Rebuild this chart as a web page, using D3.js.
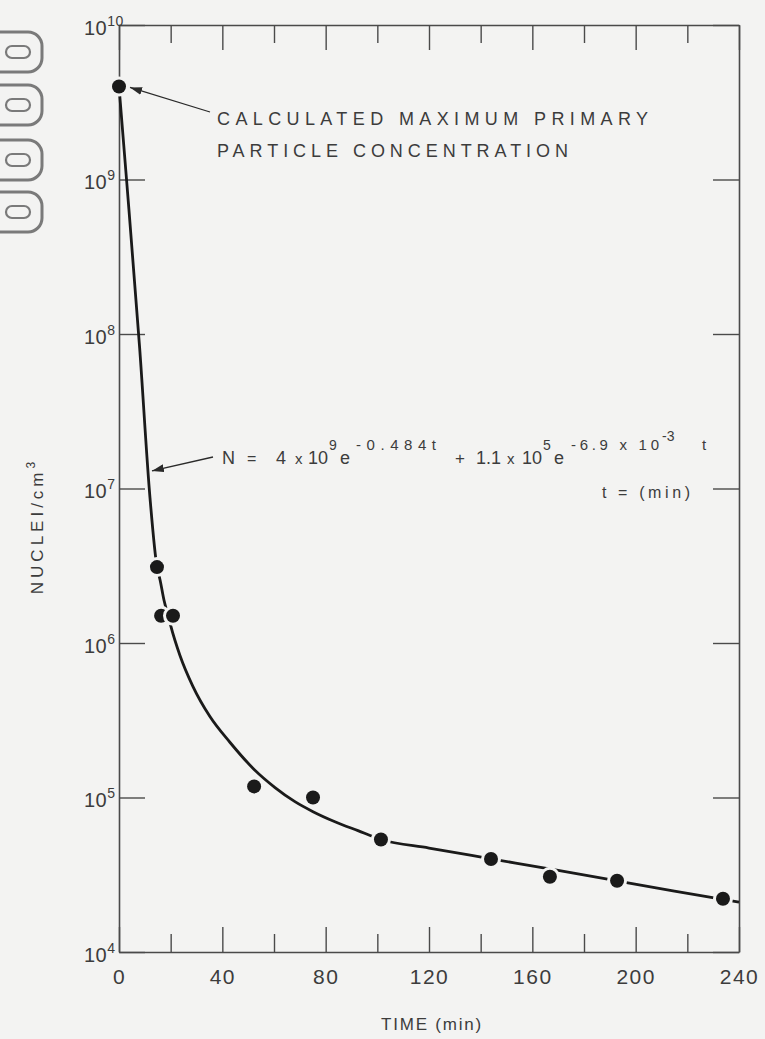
<!DOCTYPE html>
<html>
<head>
<meta charset="utf-8">
<script src="https://cdn.jsdelivr.net/npm/d3@7"></script>
<style>
  html, body { margin: 0; padding: 0; background: #f3f3f2; }
  svg { display: block; }
  .lbl { font-family: "Liberation Sans", Arial, sans-serif; fill: #3c3c3c; }
</style>
</head>
<body>
<div id="chart"></div>
<script>
// measured points (min, nuclei/cm3)
var timeMin = [0, 14.7, 16.3, 20.9, 52.3, 75.1, 101.4, 144, 166.8, 192.8, 233.8];
var nuclei = [4.0e9, 3.1e6, 1.5e6, 1.5e6, 1.18e5, 1.0e5, 5.35e4, 4.0e4, 3.07e4, 2.89e4, 2.21e4];

// fitted curve
var fitTime = [0, 3, 8, 12, 14.7, 15.9, 17.4, 19.3, 20.1, 23.6, 28.6, 35.2, 43.0, 52.3, 60.4, 68.1, 75.1, 83.6, 92.5, 101.4, 120, 144, 170, 194, 215, 240];
var fitN = [4.0e9, 9.6e8, 8.1e7, 8.7e6, 3.1e6, 2.56e6, 1.9e6, 1.45e6, 1.28e6, 8.3e5, 5.24e5, 3.34e5, 2.27e5, 1.52e5, 1.16e5, 9.4e4, 8.1e4, 6.97e4, 6.1e4, 5.35e4, 4.71e4, 4.01e4, 3.37e4, 2.86e4, 2.48e4, 2.1e4];

var xMajor = [0, 40, 80, 120, 160, 200, 240];
var xMinor = [20, 60, 100, 140, 180, 220];
var yTicks = [1e4, 1e5, 1e6, 1e7, 1e8, 1e9, 1e10];

var svgWidth = 765;
var svgHeight = 1039;
var margin = { top: 25, right: 26, bottom: 87, left: 119 };
var width = svgWidth - margin.left - margin.right;
var height = svgHeight - margin.top - margin.bottom;
var bg = "#f3f3f2";
var ink = "#1a1a1a";
var frame = "#4a4a4a";

var svg = d3.select("#chart")
  .append("svg")
  .attr("width", svgWidth)
  .attr("height", svgHeight);

svg.append("rect").attr("width", svgWidth).attr("height", svgHeight).attr("fill", bg);

// binder marks on the left edge of the scan
var holes = [[32, 72], [85, 125], [140, 180], [192, 232]];
holes.forEach(function(h) {
  var t = h[0], b = h[1], r = 14;
  svg.append("path")
    .attr("d", `M0,${t} H${42 - r} A${r},${r} 0 0 1 42,${t + r} V${b - r} A${r},${r} 0 0 1 ${42 - r},${b} H0`)
    .attr("fill", "none").attr("stroke", "#7a7a7a").attr("stroke-width", 3);
  var m = (t + b) / 2;
  svg.append("rect")
    .attr("x", 6).attr("y", m - 6).attr("width", 24).attr("height", 12).attr("rx", 6)
    .attr("fill", "none").attr("stroke", "#7a7a7a").attr("stroke-width", 2.2);
});

var chartGroup = svg.append("g")
  .attr("transform", `translate(${margin.left}, ${margin.top})`);

var xScale = d3.scaleLinear().domain([0, 240]).range([0, width]);
var yScale = d3.scaleLog().domain([1e4, 1e10]).range([height, 0]);

// axes, ticks pointing inward
function styleAxis(g) {
  g.selectAll(".domain").attr("stroke", frame).attr("stroke-width", 1.6);
  g.selectAll(".tick line").attr("stroke", frame).attr("stroke-width", 1.4);
}

var bottomAxis = chartGroup.append("g")
  .attr("transform", `translate(0, ${height})`)
  .call(d3.axisBottom(xScale).tickValues(xMajor).tickSizeInner(-25).tickSizeOuter(0).tickPadding(17).tickFormat(d3.format("d")))
  .call(styleAxis);
bottomAxis.selectAll("text")
  .attr("class", "lbl").attr("font-size", 21).attr("letter-spacing", 1.5).attr("fill", "#3c3c3c");

chartGroup.append("g")
  .attr("transform", `translate(0, ${height})`)
  .call(d3.axisBottom(xScale).tickValues(xMinor).tickSize(-18).tickFormat(""))
  .call(styleAxis)
  .select(".domain").remove();

chartGroup.append("g")
  .call(d3.axisTop(xScale).tickValues(xMajor).tickSizeInner(-25).tickSizeOuter(0).tickFormat(""))
  .call(styleAxis);
chartGroup.append("g")
  .call(d3.axisTop(xScale).tickValues(xMinor).tickSize(-18).tickFormat(""))
  .call(styleAxis)
  .select(".domain").remove();

var leftAxis = chartGroup.append("g")
  .call(d3.axisLeft(yScale).tickValues(yTicks).tickSizeInner(-26).tickSizeOuter(0).tickFormat(""))
  .call(styleAxis);
leftAxis.selectAll(".tick").each(function(d) {
  var t = d3.select(this).append("text")
    .attr("class", "lbl")
    .attr("x", -35)
    .attr("y", 9)
    .attr("text-anchor", "start")
    .attr("font-size", 20)
    .attr("letter-spacing", 0.5);
  t.append("tspan").text("10");
  t.append("tspan").attr("dy", -9).attr("dx", 0).attr("font-size", 14).text(Math.round(Math.log10(d)));
});

chartGroup.append("g")
  .attr("transform", `translate(${width}, 0)`)
  .call(d3.axisRight(yScale).tickValues(yTicks).tickSizeInner(-26).tickSizeOuter(0).tickFormat(""))
  .call(styleAxis);

// fitted curve
var line = d3.line()
  .x(function(d, i) { return xScale(fitTime[i]); })
  .y(function(d) { return yScale(d); })
  .curve(d3.curveMonotoneX);

chartGroup.append("path")
  .datum(fitN)
  .attr("d", line)
  .attr("fill", "none")
  .attr("stroke", ink)
  .attr("stroke-width", 2.8);

// data points with a paper-coloured halo that breaks the line
var pts = chartGroup.selectAll(".pt")
  .data(nuclei)
  .enter()
  .append("g")
  .attr("transform", function(d, i) { return `translate(${xScale(timeMin[i])}, ${yScale(d)})`; });
pts.append("circle").attr("r", 10).attr("fill", bg);
pts.append("circle").attr("r", 7).attr("fill", ink);

// arrow heads
svg.append("defs").append("marker")
  .attr("id", "arrow")
  .attr("viewBox", "0 0 12 8")
  .attr("refX", 12).attr("refY", 4)
  .attr("markerWidth", 12).attr("markerHeight", 8)
  .attr("markerUnits", "userSpaceOnUse")
  .attr("orient", "auto")
  .append("path").attr("d", "M0,0 L12,4 L0,8 Z").attr("fill", "#2a2a2a");

// annotation: calculated maximum
var tipX = xScale(timeMin[0]) + 11, tipY = yScale(nuclei[0]) + 1;
chartGroup.append("line")
  .attr("x1", 210 - margin.left).attr("y1", 112 - margin.top)
  .attr("x2", tipX).attr("y2", tipY)
  .attr("stroke", "#2a2a2a").attr("stroke-width", 1.3)
  .attr("marker-end", "url(#arrow)");

svg.append("text").attr("class", "lbl")
  .attr("x", 217).attr("y", 125).attr("font-size", 18)
  .attr("textLength", 431).attr("lengthAdjust", "spacing")
  .text("CALCULATED MAXIMUM PRIMARY");
svg.append("text").attr("class", "lbl")
  .attr("x", 217).attr("y", 157).attr("font-size", 18)
  .attr("textLength", 351).attr("lengthAdjust", "spacing")
  .text("PARTICLE CONCENTRATION");

// annotation: fitted equation
var eqTipX = xScale(11.6) + 3, eqTipY = yScale(1.3e7);
chartGroup.append("line")
  .attr("x1", 213 - margin.left).attr("y1", 457 - margin.top)
  .attr("x2", eqTipX).attr("y2", eqTipY)
  .attr("stroke", "#2a2a2a").attr("stroke-width", 1.3)
  .attr("marker-end", "url(#arrow)");

var eqBase = 464, supBase = 450, sup2Base = 441;
var eqParts = [
  { s: "N", x: 222, y: eqBase, f: 18 },
  { s: "=", x: 247, y: eqBase, f: 16 },
  { s: "4", x: 276, y: eqBase, f: 18 },
  { s: "x", x: 295, y: eqBase, f: 15 },
  { s: "10", x: 308, y: eqBase, f: 18 },
  { s: "9", x: 329, y: supBase, f: 14 },
  { s: "e", x: 340, y: eqBase, f: 18 },
  { s: "-0.484t", x: 356, y: supBase, f: 15, w: 80 },
  { s: "+", x: 455, y: eqBase, f: 17 },
  { s: "1.1", x: 476, y: eqBase, f: 18 },
  { s: "x", x: 507, y: eqBase, f: 15 },
  { s: "10", x: 522, y: eqBase, f: 18 },
  { s: "5", x: 543, y: supBase, f: 14 },
  { s: "e", x: 554, y: eqBase, f: 18 },
  { s: "-6.9 x 10", x: 571, y: supBase, f: 15, w: 88 },
  { s: "-3", x: 662, y: sup2Base, f: 14 },
  { s: "t", x: 702, y: supBase, f: 15 }
];
eqParts.forEach(function(p) {
  var t = svg.append("text").attr("class", "lbl")
    .attr("x", p.x).attr("y", p.y).attr("font-size", p.f).text(p.s);
  if (p.w) t.attr("textLength", p.w).attr("lengthAdjust", "spacing");
});

svg.append("text").attr("class", "lbl")
  .attr("x", 602).attr("y", 498).attr("font-size", 16)
  .attr("textLength", 88).attr("lengthAdjust", "spacing")
  .text("t = (min)");

// axis titles
svg.append("text").attr("class", "lbl")
  .attr("x", 432).attr("y", 1030).attr("text-anchor", "middle").attr("font-size", 17)
  .attr("letter-spacing", 1.8)
  .text("TIME (min)");

var yTitle = svg.append("text").attr("class", "lbl")
  .attr("transform", "translate(43, 526) rotate(-90)")
  .attr("text-anchor", "middle").attr("font-size", 17)
  .attr("letter-spacing", 4);
yTitle.append("tspan").text("NUCLEI/cm");
yTitle.append("tspan").attr("dy", -8).attr("font-size", 12).text("3");
</script>
</body>
</html>
